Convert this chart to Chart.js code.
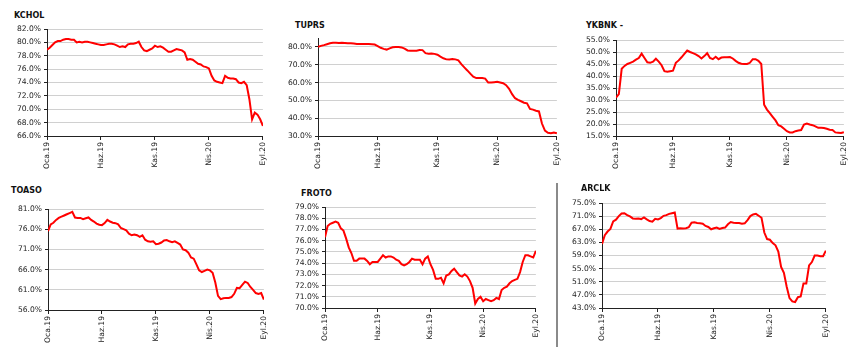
<!DOCTYPE html>
<html>
<head>
<meta charset="utf-8">
<script src="https://cdn.jsdelivr.net/npm/chart.js@4.4.1/dist/chart.umd.min.js"></script>
<style>
  html, body { margin: 0; padding: 0; background: #ffffff; }
  body { width: 858px; height: 355px; position: relative; overflow: hidden; }
  canvas { position: absolute; }
  .ttl { position: absolute; font-family: "DejaVu Sans", Verdana, sans-serif; font-weight: bold; font-size: 8px; line-height: 10px; color: #111; white-space: nowrap; }
  .sep { position: absolute; left: 556px; top: 183px; width: 2px; height: 164px; background: #8a8a8a; }
</style>
</head>
<body>
<div class="sep"></div>
<script>
// ---- data (81 points from Oca.19 to Eyl.20) ----
const tickLabels = ['Oca.19', 'Haz.19', 'Kas.19', 'Nis.20', 'Eyl.20'];
const tickIndex = [0, 20, 40, 60, 80];

const kchol = [78.9,79.2,79.6,80.0,80.2,80.2,80.4,80.5,80.5,80.4,80.4,80.0,80.1,80.0,80.1,80.1,80.0,79.9,79.8,79.7,
  79.6,79.6,79.7,79.8,79.8,79.7,79.5,79.3,79.4,79.3,79.7,79.8,79.8,79.9,80.1,79.3,78.8,78.7,78.9,79.1,
  79.5,79.3,79.4,79.2,78.9,78.6,78.6,78.8,79.0,78.9,78.8,78.5,77.4,77.5,77.4,77.1,76.8,76.7,76.4,76.3,
  76.1,75.0,74.3,74.1,74.0,73.9,75.0,74.7,74.6,74.6,74.5,74.0,73.9,74.1,73.6,71.5,68.5,69.5,69.2,68.5,67.5];

const tuprs = [80.0,80.6,81.0,81.5,82.0,82.3,82.4,82.2,82.3,82.2,82.0,82.1,81.9,81.6,81.7,81.6,81.7,81.6,81.5,81.3,
  80.5,79.5,78.9,78.5,79.2,79.8,80.0,80.0,79.7,79.0,78.0,77.8,77.8,77.9,78.3,78.2,76.5,76.2,76.3,76.1,
  75.6,74.5,73.6,73.0,72.9,73.2,73.0,72.5,70.3,68.5,66.8,65.0,63.3,62.5,62.6,62.5,62.2,60.0,60.0,60.2,
  60.4,60.0,59.6,58.5,56.5,53.5,51.2,50.3,49.5,48.7,48.3,45.2,44.8,44.2,43.8,37.0,33.0,31.8,31.6,32.0,31.5];

const ykbnk = [31.0,32.5,43.0,44.2,45.0,45.5,46.0,46.8,47.5,49.3,47.5,45.7,45.5,46.0,47.2,46.0,44.5,42.0,41.8,42.0,
  42.2,45.5,46.5,47.8,49.2,50.6,50.0,49.5,49.0,48.3,47.3,48.3,49.5,47.5,47.0,48.0,47.0,47.7,47.8,47.8,
  47.9,47.3,46.3,45.5,45.1,45.0,45.0,45.5,47.0,47.0,46.3,45.0,28.0,26.0,24.5,23.0,21.5,19.5,19.0,18.0,
  17.0,16.5,16.5,17.0,17.3,17.5,19.8,20.2,19.8,19.5,19.0,18.4,18.4,18.3,18.0,17.6,17.5,16.5,16.4,16.3,16.6];

const toaso = [75.5,77.2,77.6,78.3,78.8,79.1,79.4,79.7,80.0,80.3,78.9,78.8,78.8,78.5,78.7,78.9,78.3,77.9,77.4,77.1,
  77.0,77.5,78.3,77.9,77.6,77.5,77.2,76.3,76.0,75.7,74.9,74.5,74.7,74.5,74.1,74.5,73.4,73.0,72.9,73.0,
  72.3,72.4,72.7,73.2,73.3,73.0,72.8,73.0,72.6,72.2,71.0,70.8,70.2,69.0,68.7,67.3,65.8,65.4,65.7,66.0,
  65.8,65.2,62.8,59.5,58.7,58.9,59.0,59.0,59.2,60.0,61.5,61.4,62.2,63.0,62.7,61.7,61.0,60.2,60.0,60.2,58.6];

const froto = [76.3,77.3,77.5,77.6,77.7,77.6,77.1,76.9,76.2,75.4,74.9,74.2,74.2,74.4,74.4,74.4,74.2,73.9,74.1,74.1,
  74.1,74.4,74.7,74.5,74.6,74.6,74.5,74.3,74.2,73.9,73.8,73.9,74.1,74.4,74.3,74.3,74.3,73.9,74.4,74.6,
  73.9,73.4,72.6,72.6,72.7,72.2,72.9,73.0,73.3,73.5,73.2,72.9,72.8,73.0,72.8,72.4,71.8,70.4,70.8,71.0,
  70.6,70.8,70.7,70.6,70.7,70.9,70.8,71.6,71.8,71.9,72.2,72.4,72.5,72.6,73.2,74.1,74.7,74.7,74.6,74.5,75.1];

const arclk = [62.5,65.2,66.3,67.1,69.4,69.9,71.0,71.8,71.9,71.3,70.9,70.3,70.2,70.3,70.1,70.6,70.0,69.5,69.3,70.2,
  70.0,70.4,71.1,71.3,71.7,71.9,72.1,67.2,67.3,67.2,67.3,67.6,69.0,69.1,68.9,68.8,68.7,68.0,67.7,67.0,
  67.3,67.5,67.1,67.4,67.5,68.5,69.2,69.0,68.9,68.9,68.7,68.8,69.8,71.0,71.5,71.7,71.1,70.5,66.0,64.0,
  63.8,62.8,62.1,60.2,55.5,53.7,49.5,46.0,45.0,44.8,46.3,46.5,50.5,50.5,56.0,57.0,59.0,59.0,58.8,58.8,60.5];

// y-axis tick values per panel
const kcholTicks = [66, 68, 70, 72, 74, 76, 78, 80, 82];
const tuprsTicks = [30, 40, 50, 60, 70, 80];
const ykbnkTicks = [15, 20, 25, 30, 35, 40, 45, 50, 55];
const toasoTicks = [56, 61, 66, 71, 76, 81];
const frotoTicks = [70, 71, 72, 73, 74, 75, 76, 77, 78, 79];
const arclkTicks = [43, 47, 51, 55, 59, 63, 67, 71, 75];

// ---- layout (plot-area boxes in page pixels) ----
const panels = [
  { name: 'KCHOL',   data: kchol, ticks: kcholTicks, min: 66, max: 82, box: [47, 29, 219, 107], title: [14, 11] },
  { name: 'TUPRS',   data: tuprs, ticks: tuprsTicks, min: 30, max: 85, box: [318, 38, 242, 98], title: [295, 21] },
  { name: 'YKBNK -', data: ykbnk, ticks: ykbnkTicks, min: 15, max: 55, box: [616, 40, 231, 96], title: [586, 21] },
  { name: 'TOASO',   data: toaso, ticks: toasoTicks, min: 56, max: 81, box: [48, 209, 219, 101], title: [11, 186] },
  { name: 'FROTO',   data: froto, ticks: frotoTicks, min: 70, max: 79, box: [325, 207, 214, 101], title: [301, 189] },
  { name: 'ARCLK',   data: arclk, ticks: arclkTicks, min: 43, max: 75, box: [602, 203, 227, 105], title: [581, 184] }
];

const YW = 46, PT = 8, PR = 8, XH = 42;
const FONT = { family: '"DejaVu Sans", Verdana, sans-serif', size: 7.6 };

panels.forEach((p, k) => {
  const [L, T, W, H] = p.box;
  const t = document.createElement('div');
  t.className = 'ttl';
  t.style.left = p.title[0] + 'px';
  t.style.top = p.title[1] + 'px';
  t.textContent = p.name;
  document.body.appendChild(t);

  const c = document.createElement('canvas');
  const cw = W + YW + PR, ch = H + PT + XH;
  c.width = cw; c.height = ch;
  c.style.left = (L - YW) + 'px';
  c.style.top = (T - PT) + 'px';
  c.style.width = cw + 'px';
  c.style.height = ch + 'px';
  document.body.appendChild(c);

  new Chart(c, {
    type: 'line',
    data: {
      datasets: [{
        data: p.data.map((v, i) => ({ x: i, y: v })),
        borderColor: '#ff0000',
        borderWidth: 2,
        pointRadius: 0,
        tension: 0,
        fill: false
      }]
    },
    options: {
      responsive: false,
      animation: false,
      devicePixelRatio: 1,
      layout: { padding: { top: PT, right: PR, left: 0, bottom: 0 } },
      plugins: { legend: { display: false }, tooltip: { enabled: false } },
      scales: {
        x: {
          type: 'linear',
          min: 0,
          max: p.data.length - 1,
          afterBuildTicks: s => { s.ticks = tickIndex.map(v => ({ value: v })); },
          afterFit: s => { s.height = XH; },
          grid: { drawOnChartArea: false, drawTicks: true, tickLength: 4, color: '#222', tickColor: '#222' },
          border: { display: true, color: '#222', width: 1 },
          ticks: {
            autoSkip: false,
            maxRotation: 90,
            minRotation: 90,
            padding: 2,
            color: '#222',
            font: FONT,
            callback: v => { const j = tickIndex.indexOf(v); return j >= 0 ? tickLabels[j] : ''; }
          }
        },
        y: {
          type: 'linear',
          min: p.min,
          max: p.max,
          afterBuildTicks: s => { s.ticks = p.ticks.map(v => ({ value: v })); },
          afterFit: s => { s.width = YW; },
          grid: { color: '#d0d0d0', lineWidth: 1, drawTicks: true, tickLength: 3, tickColor: '#222' },
          border: { display: true, color: '#222', width: 1 },
          ticks: {
            autoSkip: false,
            padding: 3,
            color: '#222',
            font: FONT,
            callback: v => v.toFixed(1) + '%'
          }
        }
      }
    }
  });
});
</script>
</body>
</html>
